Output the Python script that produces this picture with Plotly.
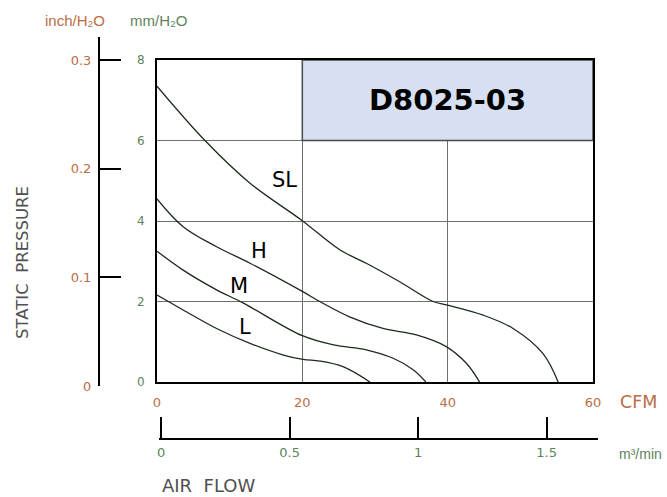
import plotly.graph_objects as go

# ---- data ----
sl_cfm = [0, 6.6, 12.8, 19.9, 25.2, 28.8, 33.4, 38, 40, 44.9, 49, 53.1, 55.2]
sl_p   = [7.35, 6.0, 4.94, 4.02, 3.28, 2.95, 2.49, 2.0, 1.91, 1.66, 1.33, 0.71, 0]
h_cfm  = [0, 3.6, 8.2, 12.8, 20, 22.4, 26.5, 31.1, 35.7, 39.8, 42.6, 44.4]
h_p    = [4.55, 3.86, 3.36, 2.95, 2.25, 2.0, 1.62, 1.33, 1.17, 0.88, 0.46, 0]
m_cfm  = [0, 3.6, 8.2, 11.9, 20, 24.3, 28.8, 32.5, 35.3, 37]
m_p    = [3.25, 2.78, 2.29, 1.96, 1.15, 0.92, 0.8, 0.59, 0.3, 0]
l_cfm  = [0, 3.6, 8.2, 12.8, 17.4, 20.1, 22.4, 25.6, 29.3]
l_p    = [2.16, 1.79, 1.33, 0.96, 0.67, 0.56, 0.52, 0.38, 0]

curve_names = ["SL", "H", "M", "L"]
label_pos = {"SL": (17.6, 5.02), "H": (14.0, 3.25), "M": (11.3, 2.38), "L": (12.1, 1.37)}

cfm_ticks = [0, 20, 40, 60]
mm_ticks = [0, 2, 4, 6, 8]
inch_ticks = [0, 0.1, 0.2, 0.3]
inch_text = ["0", "0.1", "0.2", "0.3"]
m3_ticks = [0, 0.5, 1, 1.5]
m3_text = ["0", "0.5", "1", "1.5"]
model = "D8025-03"

W, H = 667, 497
ORANGE = "#bb6d45"
GREEN = "#5e835c"
GRAY = "#505050"
NUMFONT = "DejaVu Sans"
TXTFONT = "DejaVu Sans"

def px(x):
    return x / W
def py(y):
    return 1 - y / H

fig = go.Figure()
for xs, ys in [(sl_cfm, sl_p), (h_cfm, h_p), (m_cfm, m_p), (l_cfm, l_p)]:
    fig.add_trace(go.Scatter(x=xs, y=ys, mode="lines", line=dict(color="#1c2a1c", width=1.3, shape="spline"),
                             showlegend=False, hoverinfo="skip"))
# empty trace so that the secondary (inch / m3-per-min) axes get drawn
fig.add_trace(go.Scatter(x=[None], y=[None], xaxis="x2", yaxis="y2", mode="lines",
                         showlegend=False, hoverinfo="skip"))

fig.update_layout(
    width=W, height=H, margin=dict(l=0, r=0, t=0, b=0, pad=0), autosize=False,
    plot_bgcolor="rgba(0,0,0,0)", paper_bgcolor="white", showlegend=False,
    xaxis=dict(domain=[px(157), px(593)], range=[0, 60], tickvals=cfm_ticks, automargin=False,
               showgrid=True, gridcolor="#707070", gridwidth=1.4, zeroline=False,
               showline=True, linecolor="black", linewidth=2, mirror=True,
               ticks="", tickfont=dict(family=NUMFONT, size=13, color=ORANGE),
               ticklabelstandoff=7),
    yaxis=dict(domain=[py(382), py(60)], range=[0, 8], tickvals=mm_ticks, automargin=False,
               showgrid=True, gridcolor="#707070", gridwidth=1.4, zeroline=False,
               showline=True, linecolor="black", linewidth=2, mirror=True,
               ticks="", tickfont=dict(family=NUMFONT, size=12, color=GREEN),
               ticklabelstandoff=8),
    yaxis2=dict(domain=[py(386), py(37)], range=[0, 0.3 * 349 / 326], anchor="free",
                position=px(99), side="left", tickvals=inch_ticks, ticktext=inch_text, automargin=False,
                showgrid=False, zeroline=False, showline=True, linecolor="black", linewidth=2,
                ticks="inside", ticklen=21, tickwidth=2, tickcolor="black",
                tickfont=dict(family=NUMFONT, size=13, color=ORANGE), ticklabelstandoff=4),
    xaxis2=dict(domain=[px(158.5), px(598)], range=[-0.01, 1.7], anchor="free",
                position=py(438.5), side="bottom", tickvals=m3_ticks, ticktext=m3_text, automargin=False,
                showgrid=False, zeroline=False, showline=True, linecolor="black", linewidth=2,
                ticks="inside", ticklen=21, tickwidth=2, tickcolor="black",
                tickfont=dict(family=NUMFONT, size=13, color=GREEN), ticklabelstandoff=2),
)

fig.add_shape(type="rect", xref="x", yref="y", x0=20, x1=60, y0=6, y1=8,
              fillcolor="#d6e0f2", line=dict(color="#4a4a4a", width=1.5), layer="above")

anns = [
    dict(x=40, y=7, xref="x", yref="y", text="<b>" + model + "</b>", showarrow=False,
         font=dict(family=TXTFONT, size=29, color="black")),
]
for n in curve_names:
    cx, cy = label_pos[n]
    anns.append(dict(x=cx, y=cy, xref="x", yref="y", text=n, showarrow=False,
                     font=dict(family=TXTFONT, size=21, color="black")))
anns += [
    dict(x=px(43), y=py(20), text="inch/H₂O", xanchor="left",
         font=dict(family="Liberation Sans", size=15, color=ORANGE)),
    dict(x=px(128), y=py(20), text="mm/H₂O", xanchor="left",
         font=dict(family="Liberation Sans", size=15, color=GREEN)),
    dict(x=px(618), y=py(401.5), text="CFM", xanchor="left",
         font=dict(family=TXTFONT, size=17.5, color=ORANGE)),
    dict(x=px(617), y=py(454), text="m³/min", xanchor="left",
         font=dict(family="Liberation Sans", size=14, color=GREEN)),
    dict(x=px(160), y=py(485.5), text="AIR  FLOW", xanchor="left",
         font=dict(family=TXTFONT, size=18, color=GRAY)),
    dict(x=px(22), y=py(263), text="STATIC  PRESSURE", xanchor="center",
         textangle=-90, font=dict(family=TXTFONT, size=16.5, color=GRAY)),
]
for a in anns[1 + len(curve_names):]:
    a.update(xref="paper", yref="paper", yanchor="middle", showarrow=False)
fig.update_layout(annotations=anns)

fig.write_html("out.html", config={"displayModeBar": False},
               post_script="document.body.style.margin='0';")
